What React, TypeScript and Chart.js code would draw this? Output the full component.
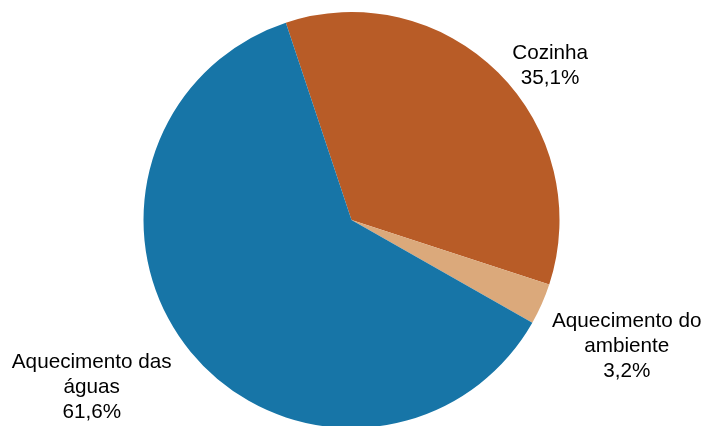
import React, { useEffect, useRef } from "react";
import { Chart, registerables } from "chart.js";

Chart.register(...registerables);

const categories = ["Cozinha", "Aquecimento do ambiente", "Aquecimento das águas"];
const values = [35.1, 3.2, 61.6];
const labelLines = [
  ["Cozinha", "35,1%"],
  ["Aquecimento do", "ambiente", "3,2%"],
  ["Aquecimento das", "águas", "61,6%"],
];
const colors = ["#B85C27", "#DBA97B", "#1775A7"];
// label block centre offsets from the slice's outer edge at mid-angle
const labelOffsets = [
  [52, -7],
  [85, 42],
  [-99, 35],
];

const labelPlugin = {
  id: "pieLabels",
  afterDraw(chart: any) {
    const ctx = chart.ctx;
    const meta = chart.getDatasetMeta(0);
    ctx.save();
    ctx.font = "20.7px 'Liberation Sans', Arial, sans-serif";
    ctx.fillStyle = "#000";
    ctx.textAlign = "center";
    ctx.textBaseline = "middle";
    const lh = 25;
    meta.data.forEach((arc: any, i: number) => {
      const p = arc.getProps(["x", "y", "startAngle", "endAngle", "outerRadius"], true);
      const mid = (p.startAngle + p.endAngle) / 2;
      const ex = p.x + Math.cos(mid) * p.outerRadius;
      const ey = p.y + Math.sin(mid) * p.outerRadius;
      const cx = ex + labelOffsets[i][0];
      const cy = ey + labelOffsets[i][1];
      const lines = labelLines[i];
      lines.forEach((t, j) => {
        ctx.fillText(t, cx, cy + (j - (lines.length - 1) / 2) * lh);
      });
    });
    ctx.restore();
  },
};

export default function App() {
  const ref = useRef<HTMLCanvasElement>(null);
  useEffect(() => {
    document.body.style.margin = "0";
    const chart = new Chart(ref.current!, {
      type: "pie",
      data: {
        labels: categories,
        datasets: [
          {
            data: values,
            backgroundColor: colors,
            borderWidth: 0,
          },
        ],
      },
      options: {
        responsive: false,
        animation: false,
        rotation: -18.4,
        layout: { padding: { top: 12, bottom: 12, left: 0, right: 4 } },
        plugins: {
          legend: { display: false },
          tooltip: { enabled: false },
        },
      },
      plugins: [labelPlugin],
    });
    return () => chart.destroy();
  }, []);
  return (
    <div style={{ width: 707, height: 426, overflow: "hidden", background: "#fff" }}>
      <canvas ref={ref} width={707} height={440} style={{ display: "block" }} />
    </div>
  );
}
